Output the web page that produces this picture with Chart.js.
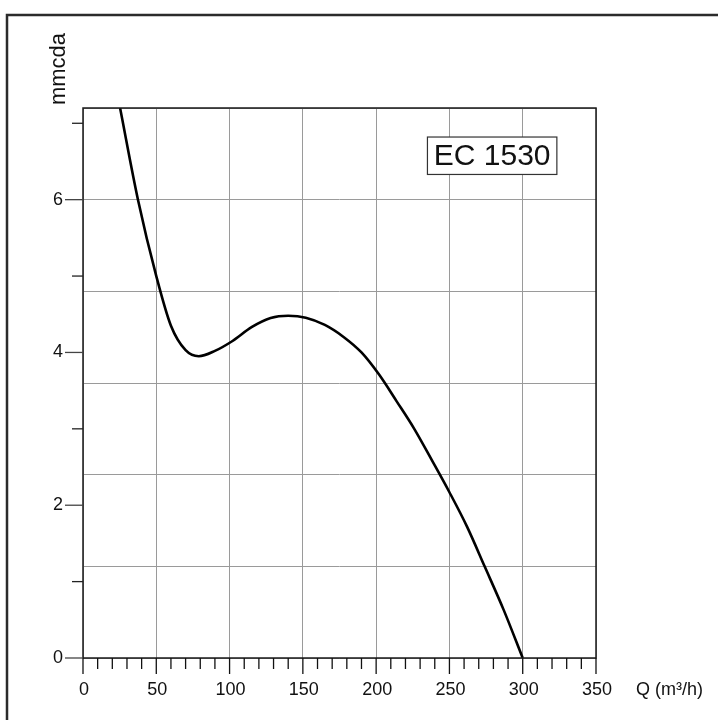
<!DOCTYPE html>
<html>
<head>
<meta charset="utf-8">
<script src="https://cdn.jsdelivr.net/npm/chart.js@4.4.1/dist/chart.umd.min.js"></script>
<style>
  html, body { margin: 0; padding: 0; background: #fff; }
  #wrap { width: 718px; height: 720px; }
</style>
</head>
<body>
<div id="wrap"><canvas id="fan-chart" width="718" height="720"></canvas></div>
<script>
// Fan curve
const flowValues = [25.3, 37.5, 50, 60, 70, 79, 90, 102, 115, 128, 140, 152, 165, 178, 190, 202, 214, 226, 238, 250, 262, 274, 287, 300];
const pressureValues = [7.2, 6.0, 5.0, 4.35, 4.03, 3.95, 4.02, 4.15, 4.33, 4.45, 4.48, 4.455, 4.36, 4.2, 4.0, 3.71, 3.36, 3.0, 2.59, 2.17, 1.72, 1.2, 0.63, 0];

const xTickLabels = [0, 50, 100, 150, 200, 250, 300, 350];
const yTickLabels = [0, 2, 4, 6];
const modelName = 'EC 1530';
const xTitle = 'Q (m³/h)';
const yTitle = 'mmcda';

const FONT = '"Liberation Sans", Arial, sans-serif';

// Axis ticks, labels, frame and name box
const decorPlugin = {
    id: 'decor',
    afterDraw(chart) {
        const ctx = chart.ctx;
        const area = chart.chartArea;
        const xs = chart.scales.x;
        const ys = chart.scales.y;
        ctx.save();

        // outer frame
        ctx.strokeStyle = '#2b2b2b';
        ctx.lineWidth = 2.5;
        ctx.strokeRect(7, 15, 740, 740);

        // plot border
        ctx.strokeStyle = '#1a1a1a';
        ctx.lineWidth = 1.5;
        ctx.strokeRect(area.left, area.top, area.right - area.left, area.bottom - area.top);

        // x ticks
        ctx.lineWidth = 1.3;
        ctx.strokeStyle = '#111';
        for (let v = 0; v <= 350; v += 10) {
            const px = xs.getPixelForValue(v);
            const len = v % 50 === 0 ? 16 : 11;
            ctx.beginPath();
            ctx.moveTo(px, area.bottom);
            ctx.lineTo(px, area.bottom + len);
            ctx.stroke();
        }
        ctx.fillStyle = '#111';
        ctx.font = '18px ' + FONT;
        ctx.textAlign = 'center';
        ctx.textBaseline = 'middle';
        xTickLabels.forEach(v => {
            ctx.fillText(String(v), xs.getPixelForValue(v) + 1, area.bottom + 32);
        });

        // y ticks
        for (let v = 0; v <= 7; v++) {
            const py = ys.getPixelForValue(v);
            const major = v % 2 === 0;
            ctx.strokeStyle = major ? '#444' : '#222';
            ctx.beginPath();
            ctx.moveTo(area.left - (major ? 18 : 11), py);
            ctx.lineTo(area.left, py);
            ctx.stroke();
        }
        ctx.textAlign = 'right';
        yTickLabels.forEach(v => {
            ctx.fillText(String(v), area.left - 20, ys.getPixelForValue(v));
        });

        // axis titles
        ctx.textAlign = 'left';
        ctx.fillText(xTitle, 636, area.bottom + 32);
        ctx.save();
        ctx.translate(59, 69);
        ctx.rotate(-Math.PI / 2);
        ctx.textAlign = 'center';
        ctx.font = '22px ' + FONT;
        ctx.fillText(yTitle, 0, 0);
        ctx.restore();

        // model name box
        const bx0 = xs.getPixelForValue(235);
        const bx1 = xs.getPixelForValue(323.3);
        const by0 = ys.getPixelForValue(6.82);
        const by1 = ys.getPixelForValue(6.33);
        ctx.fillStyle = '#fff';
        ctx.fillRect(bx0, by0, bx1 - bx0, by1 - by0);
        ctx.strokeStyle = '#333';
        ctx.lineWidth = 1.2;
        ctx.strokeRect(bx0, by0, bx1 - bx0, by1 - by0);
        ctx.fillStyle = '#111';
        ctx.font = '30px ' + FONT;
        ctx.textAlign = 'center';
        ctx.fillText(modelName, (bx0 + bx1) / 2, (by0 + by1) / 2 + 1);

        ctx.restore();
    }
};

function renderFanChart() {
    const ctx = document.getElementById('fan-chart').getContext('2d');
    const points = flowValues.map((q, i) => ({ x: q, y: pressureValues[i] }));
    new Chart(ctx, {
        type: 'scatter',
        data: {
            datasets: [{
                data: points,
                showLine: true,
                borderColor: '#000',
                borderWidth: 2.6,
                pointRadius: 0,
                cubicInterpolationMode: 'monotone',
                fill: false
            }]
        },
        options: {
            responsive: false,
            animation: false,
            layout: { padding: { left: 83, right: 122, top: 108, bottom: 62 } },
            plugins: { legend: { display: false }, tooltip: { enabled: false } },
            scales: {
                x: {
                    type: 'linear',
                    min: 0,
                    max: 350,
                    ticks: { display: false, stepSize: 50 },
                    grid: { color: '#9a9a9a', lineWidth: 1, drawTicks: false },
                    border: { display: false }
                },
                y: {
                    type: 'linear',
                    min: 0,
                    max: 7.2,
                    ticks: { display: false, stepSize: 1.2 },
                    grid: { color: '#9a9a9a', lineWidth: 1, drawTicks: false },
                    border: { display: false }
                }
            }
        },
        plugins: [decorPlugin]
    });
}

window.onload = renderFanChart;
</script>
</body>
</html>
